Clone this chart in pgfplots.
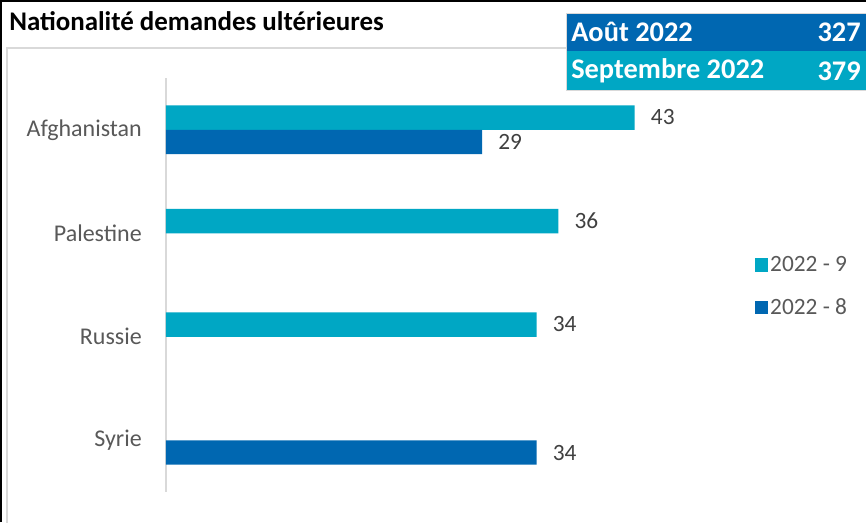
\documentclass[border=0pt]{standalone}
\usepackage{pgfplots}
\pgfplotsset{compat=1.18}
\usepackage{fontspec}
\setmainfont{Carlito}
\definecolor{teal9}{HTML}{00A7C4}
\definecolor{blue8}{HTML}{0067B1}
\definecolor{axgray}{HTML}{D9D9D9}
\definecolor{labgray}{HTML}{595959}
\definecolor{valgray}{HTML}{404040}

% septembre 2022 (y = position de la categorie)
\pgfplotstableread{
x y
43 0
36 1
34 2
}\sept
% aout 2022
\pgfplotstableread{
x y
29 0
34 3
}\aout

\begin{document}
\begin{tikzpicture}
  % fond et cadres (1 unite = 1 px de l'image de reference, coin bas gauche de l'axe en (166,30))
  \begin{scope}[x=0.75pt, y=0.75pt, shift={(-166,-30)}]
    \useasboundingbox (0,0) rectangle (866,522);
    \fill[white] (0,0) rectangle (866,522);
    \draw[axgray, line width=1.2pt] (7,-5) -- (7,474) -- (870,474);
    \draw[black, line width=1.5pt] (0.75,0) -- (0.75,521.25) -- (866,521.25);
    \node[anchor=west, inner sep=0, font=\bfseries\fontsize{20.2}{24}\selectfont]
      at (9,501) {Nationalité demandes ultérieures};
    % encadre des totaux
    \fill[blue8] (566,471) rectangle (866,509);
    \fill[teal9] (566,432) rectangle (866,471);
    \draw[axgray, line width=0.6pt] (566,432) rectangle (866,509);
    \begin{scope}[every node/.style={inner sep=0, text=white, font=\bfseries\fontsize{21.3}{24}\selectfont}]
      \node[anchor=west] at (571,490) {Août 2022};
      \node[anchor=east] at (861,490) {327};
      \node[anchor=west] at (571,451) {Septembre 2022};
      \node[anchor=east] at (861,451) {379};
    \end{scope}
  \end{scope}

  \begin{axis}[
    scale only axis, width=408.75pt, height=310.5pt,
    xmin=0, xmax=50, ymin=-0.5, ymax=3.5, y dir=reverse,
    axis x line=none, axis y line*=left,
    y axis line style={axgray, line width=0.8pt, -},
    xtick=\empty, ytick={0,1,2,3},
    yticklabels={Afghanistan,Palestine,Russie,Syrie},
    major tick length=0pt,
    yticklabel style={inner sep=0pt, xshift=-18pt, text=labgray,
      font=\fontsize{18}{20}\selectfont},
    bar width=0.235, clip=false,
    point meta=x,
    nodes near coords,
    /pgf/number format/assume math mode=true,
    nodes near coords style={anchor=west, inner sep=0pt, xshift=12pt,
      text=valgray, font=\fontsize{17.5}{20}\selectfont},
    legend style={at={(rel axis cs:1.072,0.496)}, anchor=west,
      draw=none, fill=none, row sep=15pt, text=labgray,
      font=\fontsize{17.5}{20}\selectfont},
    legend cell align=left,
    legend image code/.code={\fill[#1] (-3pt,-4.9pt) rectangle (6.75pt,4.9pt);},
  ]
  \addplot[xbar, bar shift=-0.1175, fill=teal9, draw=none,
    nodes near coords style={yshift=9.2pt}] table[x=x, y=y] {\sept};
  \addlegendentry{2022 - 9}
  \addplot[xbar, bar shift=0.1175, fill=blue8, draw=none,
    nodes near coords style={yshift=-9.2pt}] table[x=x, y=y] {\aout};
  \addlegendentry{2022 - 8}
  \end{axis}
\end{tikzpicture}
\end{document}
